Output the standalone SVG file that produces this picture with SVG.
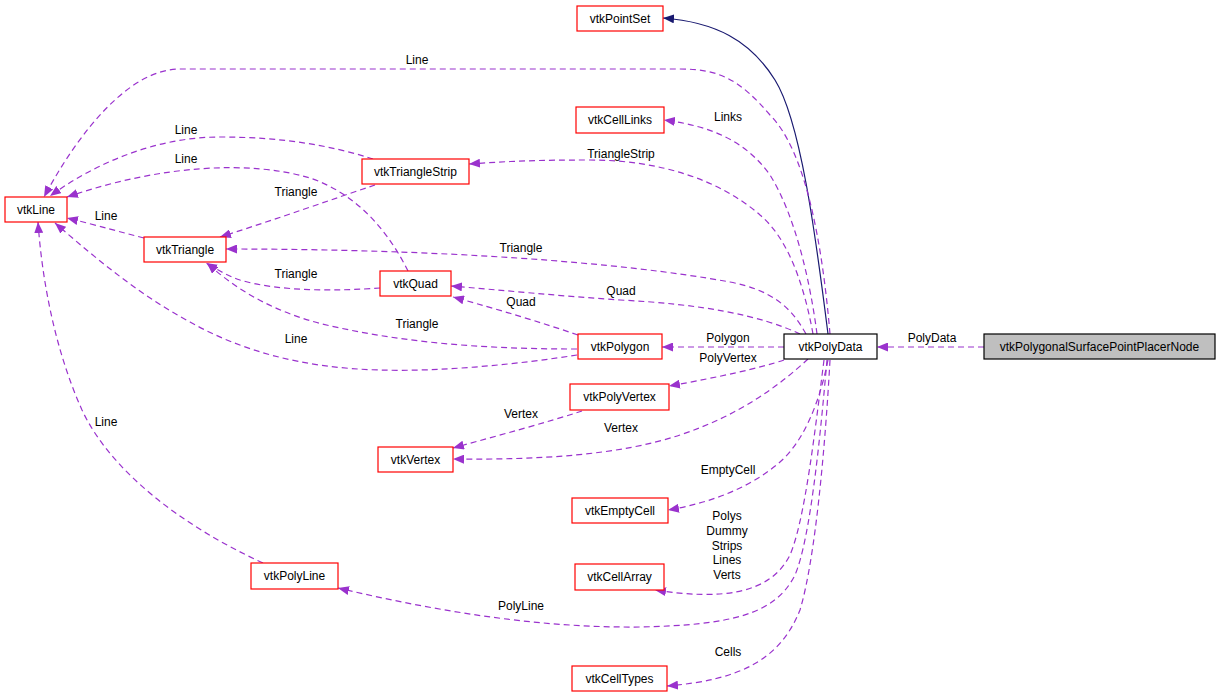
<svg xmlns="http://www.w3.org/2000/svg" width="1221" height="697" viewBox="0 0 1221 697">
<style>
.n rect{fill:#ffffff;stroke:#ff0000;stroke-width:1.2}
.n text,.lbl{font-family:"Liberation Sans",Arial,sans-serif;font-size:12px;fill:#000000;text-anchor:middle}
.e{fill:none;stroke:#9a32cd;stroke-width:1.2;stroke-dasharray:6,4;marker-end:url(#ap)}
.s{fill:none;stroke:#191970;stroke-width:1.2;marker-end:url(#an)}
</style>
<defs>
<marker id="ap" markerUnits="userSpaceOnUse" viewBox="0 0 11 9" markerWidth="11" markerHeight="9" refX="11" refY="4.5" orient="auto"><path d="M0,0 L11,4.5 L0,9 z" fill="#9a32cd"/></marker>
<marker id="an" markerUnits="userSpaceOnUse" viewBox="0 0 11 9" markerWidth="11" markerHeight="9" refX="11" refY="4.5" orient="auto"><path d="M0,0 L11,4.5 L0,9 z" fill="#191970"/></marker>
</defs>
<rect width="1221" height="697" fill="#ffffff"/>
<g id="connectors">
<path class="e" d="M984,347 L877,347"/>
<path class="s" d="M828,334 C815,230 800,120 775,80 C750,40 715,22 663,18"/>
<path class="e" d="M830,334 C822,240 805,150 770,115 C740,80 720,69 680,69 L180,69 C130,69 80,130 44,197"/>
<path class="e" d="M817,334 C810,280 795,215 770,175 C745,140 710,126 664,120"/>
<path class="e" d="M813,334 C805,290 790,240 760,215 C720,180 660,160 590,160 C540,160 510,161 469,164"/>
<path class="e" d="M373,159 C330,145 280,137 220,137 C160,137 100,160 50,196"/>
<path class="e" d="M408,271 C390,235 360,195 310,178 C250,160 160,165 67,197"/>
<path class="e" d="M375,185 C330,200 280,218 220,237"/>
<path class="e" d="M144,238 C120,232 100,226 67,218"/>
<path class="e" d="M806,334 C790,305 770,290 730,282 C620,262 440,249 226,249"/>
<path class="e" d="M380,288 C340,291 280,292 240,280 C228,276 218,270 206,263"/>
<path class="e" d="M800,334 C760,315 700,304 620,300 C560,296 500,290 451,286"/>
<path class="e" d="M578,335 C540,322 500,310 453,297"/>
<path class="e" d="M577,349 C500,349 420,345 340,328 C290,318 245,298 207,263"/>
<path class="e" d="M577,355 C520,364 440,372 380,370 C300,368 240,350 190,322 C140,295 100,262 55,223"/>
<path class="e" d="M784,347 L662,347"/>
<path class="e" d="M784,360 C760,368 720,377 669,386"/>
<path class="e" d="M582,411 C545,423 500,435 453,448"/>
<path class="e" d="M808,359 C780,385 740,415 680,435 C620,455 540,460 453,459"/>
<path class="e" d="M828,360 C820,400 805,440 780,462 C750,488 710,503 668,510"/>
<path class="e" d="M824,360 C815,430 805,520 790,555 C770,595 720,600 655,590"/>
<path class="e" d="M827,360 C820,440 810,540 795,575 C775,615 730,625 640,627 C540,628 440,612 338,588"/>
<path class="e" d="M263,563 C180,525 110,470 82,410 C55,350 42,280 38,222"/>
<path class="e" d="M830,360 C825,450 815,560 800,610 C780,660 740,680 667,686"/>
<text class="lbl" x="932" y="342">PolyData</text>
<text class="lbl" x="417" y="64">Line</text>
<text class="lbl" x="728" y="121">Links</text>
<text class="lbl" x="621" y="158">TriangleStrip</text>
<text class="lbl" x="186" y="134">Line</text>
<text class="lbl" x="186" y="163">Line</text>
<text class="lbl" x="296" y="196">Triangle</text>
<text class="lbl" x="106" y="220">Line</text>
<text class="lbl" x="521" y="252">Triangle</text>
<text class="lbl" x="296" y="278">Triangle</text>
<text class="lbl" x="621" y="295">Quad</text>
<text class="lbl" x="521" y="306">Quad</text>
<text class="lbl" x="417" y="328">Triangle</text>
<text class="lbl" x="296" y="343">Line</text>
<text class="lbl" x="728" y="342">Polygon</text>
<text class="lbl" x="728" y="362">PolyVertex</text>
<text class="lbl" x="521" y="418">Vertex</text>
<text class="lbl" x="621" y="432">Vertex</text>
<text class="lbl" x="728" y="474">EmptyCell</text>
<text class="lbl" x="727" y="520">Polys</text>
<text class="lbl" x="727" y="535">Dummy</text>
<text class="lbl" x="727" y="550">Strips</text>
<text class="lbl" x="727" y="564">Lines</text>
<text class="lbl" x="727" y="579">Verts</text>
<text class="lbl" x="521" y="610">PolyLine</text>
<text class="lbl" x="728" y="656">Cells</text>
<text class="lbl" x="106" y="426">Line</text>
</g>
<g id="vtkPolygonalSurfacePointPlacerNode" class="n"><rect x="984" y="334" width="231" height="25" style="fill:#bfbfbf;stroke:#000000"/><text x="1099.5" y="351">vtkPolygonalSurfacePointPlacerNode</text></g>
<g id="vtkPolyData" class="n"><rect x="784" y="334" width="93" height="25" style="stroke:#000000"/><text x="830.5" y="351">vtkPolyData</text></g>
<g id="vtkPointSet" class="n"><rect x="577" y="6" width="86" height="25"/><text x="620" y="23">vtkPointSet</text></g>
<g id="vtkCellLinks" class="n"><rect x="576" y="107" width="88" height="26"/><text x="620" y="124">vtkCellLinks</text></g>
<g id="vtkTriangleStrip" class="n"><rect x="362" y="159" width="107" height="25"/><text x="415.5" y="176">vtkTriangleStrip</text></g>
<g id="vtkLine" class="n"><rect x="5" y="197" width="62" height="25"/><text x="36" y="214">vtkLine</text></g>
<g id="vtkTriangle" class="n"><rect x="144" y="237" width="82" height="25"/><text x="185" y="254">vtkTriangle</text></g>
<g id="vtkQuad" class="n"><rect x="380" y="271" width="71" height="25"/><text x="415.5" y="288">vtkQuad</text></g>
<g id="vtkPolygon" class="n"><rect x="578" y="334" width="84" height="25"/><text x="620" y="351">vtkPolygon</text></g>
<g id="vtkPolyVertex" class="n"><rect x="570" y="384" width="99" height="26"/><text x="619.5" y="401">vtkPolyVertex</text></g>
<g id="vtkVertex" class="n"><rect x="378" y="447" width="75" height="25"/><text x="415.5" y="464">vtkVertex</text></g>
<g id="vtkEmptyCell" class="n"><rect x="572" y="498" width="96" height="25"/><text x="620" y="515">vtkEmptyCell</text></g>
<g id="vtkCellArray" class="n"><rect x="575" y="564" width="89" height="26"/><text x="619.5" y="581">vtkCellArray</text></g>
<g id="vtkPolyLine" class="n"><rect x="251" y="563" width="87" height="26"/><text x="294.5" y="580">vtkPolyLine</text></g>
<g id="vtkCellTypes" class="n"><rect x="572" y="666" width="95" height="25"/><text x="619.5" y="683">vtkCellTypes</text></g>
</svg>
